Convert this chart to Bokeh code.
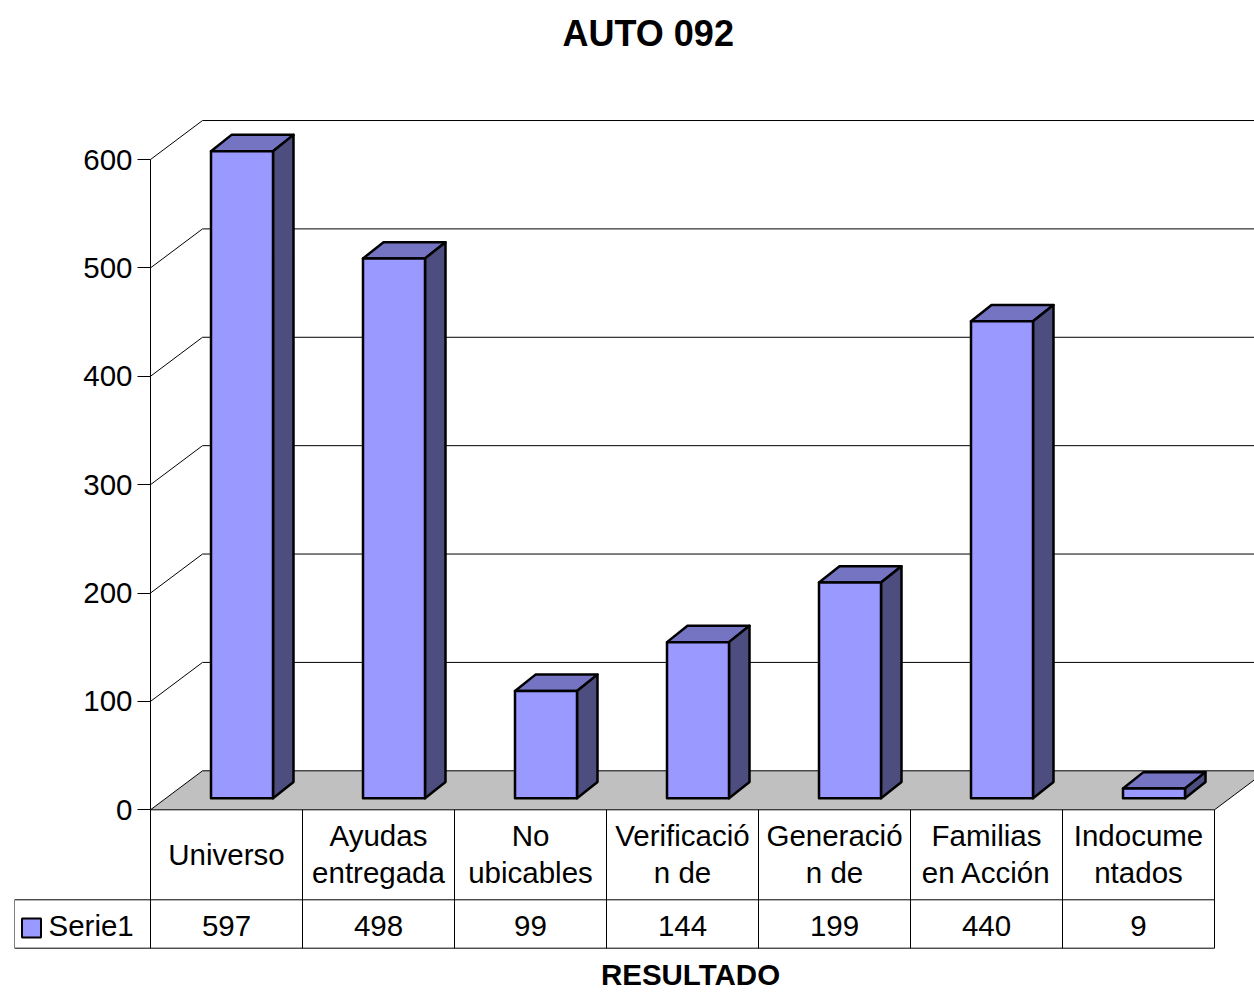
from bokeh.plotting import figure
from bokeh.models import Range1d, FixedTicker
from bokeh.embed import file_html
from bokeh.resources import INLINE
from bokeh.core.properties import value

# ---------------- data ----------------
title_text = "AUTO 092"
x_title = "RESULTADO"
series_name = "Serie1"
categories = ["Universo", "Ayudas\nentregada", "No\nubicables", "Verificació\nn de",
              "Generació\nn de", "Familias\nen Acción", "Indocume\nntados"]
values = [597, 498, 99, 144, 199, 440, 9]
y_ticks = [0, 100, 200, 300, 400, 500, 600]

# ---------------- styling / geometry constants ----------------
FONT = "Liberation Sans"
FS = "29.5px"
FRONT = "#9999FF"
TOPC = "#7474C2"
SIDE = "#4D4D80"
FLOOR = "#C0C0C0"

PX_X = 152.0      # pixels per category
PX_Y = 1.0838     # pixels per value unit
AXIS_PX = 150.0   # pixel x of the value axis
Y0_PX = 809.3     # pixel y of value 0

FR_LEFT, FR_TOP, FR_RIGHT, FR_BOTTOM = 14, 62, 1254, 994

def xd(px):
    return -0.5 + (px - AXIS_PX) / PX_X

def vy(py):
    return (Y0_PX - py) / PX_Y

n = len(categories)
x_axis = xd(AXIS_PX)

DX = 52 / PX_X          # wall depth
DY = 39 / PX_Y
BAR_SHIFT = 15.5 / PX_X
BAR_HALF = 31 / PX_X
BAR_BASE = 11.6 / PX_Y
BDX = 20.5 / PX_X
BDY = 16.3 / PX_Y

ROW1 = vy(899.3)
ROW2 = vy(947.7)
LAB1 = vy(835)
LAB2 = vy(872)
LABM = vy(854)
VALY = vy(925)
LEG_LEFT = xd(14)

p = figure(frame_width=FR_RIGHT - FR_LEFT, frame_height=FR_BOTTOM - FR_TOP,
           x_range=Range1d(xd(FR_LEFT), xd(FR_RIGHT)), y_range=Range1d(vy(FR_BOTTOM), vy(FR_TOP)),
           output_backend="svg", toolbar_location=None,
           min_border_left=FR_LEFT, min_border_top=FR_TOP, min_border_right=0, min_border_bottom=0,
           background_fill_color="white", border_fill_color="white", outline_line_color=None)
p.xgrid.visible = False
p.ygrid.visible = False
p.xaxis.visible = False

# title
p.title.text = title_text
p.title.text_font = FONT
p.title.text_font_size = "36px"
p.title.text_font_style = "bold"
p.title.text_color = "black"
p.title.align = "left"
p.title.offset = 548
p.title.standoff = 17

# y axis: drawn at the front-left edge of the chart
ya = p.yaxis[0]
ya.fixed_location = x_axis
ya.ticker = FixedTicker(ticks=y_ticks)
ya.bounds = (min(y_ticks), max(y_ticks))
ya.major_tick_out = 13
ya.major_tick_in = 0
ya.minor_tick_line_color = None
ya.major_label_overrides = {t: "" for t in y_ticks}
ya.major_label_standoff = 0
ya.axis_line_color = "black"
ya.major_tick_line_color = "black"
p.text(x=[xd(132)] * len(y_ticks), y=y_ticks, text=[str(t) for t in y_ticks],
       text_font=value(FONT), text_font_size=FS, text_align="right",
       text_baseline="middle", text_color="black")

# category-axis title
p.text(x=[xd(690)], y=[vy(974)], text=[x_title], text_font=value(FONT),
       text_font_size="29.5px", text_font_style="bold",
       text_align="center", text_baseline="middle", text_color="black")

# back wall gridlines
grid_levels = [t for t in y_ticks if t > 0]
m = len(grid_levels)
p.segment(x0=[x_axis + DX] * m, y0=[t + DY for t in grid_levels],
          x1=[n - 0.5 + DX] * m, y1=[t + DY for t in grid_levels],
          line_color="black", line_width=1)
# side wall diagonals
p.segment(x0=[x_axis] * m, y0=grid_levels,
          x1=[x_axis + DX] * m, y1=[t + DY for t in grid_levels],
          line_color="black", line_width=1)
# floor
p.patch(x=[x_axis, n - 0.5, n - 0.5 + DX, x_axis + DX], y=[0, 0, DY, DY],
        fill_color=FLOOR, line_color="black", line_width=1)

# bars
ls = [i + BAR_SHIFT - BAR_HALF for i in range(n)]
rs = [i + BAR_SHIFT + BAR_HALF for i in range(n)]
bs = [BAR_BASE] * n
ts = [BAR_BASE + v for v in values]
p.patches(xs=[[l, r, r + BDX, l + BDX] for l, r in zip(ls, rs)],
          ys=[[t, t, t + BDY, t + BDY] for t in ts],
          fill_color=TOPC, line_color="black", line_width=2.5, line_join="round")
p.patches(xs=[[r, r + BDX, r + BDX, r] for r in rs],
          ys=[[b, b + BDY, t + BDY, t] for b, t in zip(bs, ts)],
          fill_color=SIDE, line_color="black", line_width=2.5, line_join="round")
p.quad(left=ls, right=rs, bottom=bs, top=ts,
       fill_color=FRONT, line_color="black", line_width=2.5, line_join="round")

# data table
p.segment(x0=[LEG_LEFT, LEG_LEFT], y0=[ROW1, ROW2], x1=[n - 0.5, n - 0.5], y1=[ROW1, ROW2],
          line_color="black", line_width=1)
p.segment(x0=[x_axis + k for k in range(n + 1)], y0=[0] * (n + 1),
          x1=[x_axis + k for k in range(n + 1)], y1=[ROW2] * (n + 1),
          line_color="black", line_width=1)
p.segment(x0=[LEG_LEFT], y0=[ROW1], x1=[LEG_LEFT], y1=[ROW2], line_color="black", line_width=1)

lx, ly, lt = [], [], []
for i, c in enumerate(categories):
    parts = c.split("\n")
    if len(parts) == 1:
        lx.append(i); ly.append(LABM); lt.append(parts[0])
    else:
        lx += [i, i]; ly += [LAB1, LAB2]; lt += parts
p.text(x=lx, y=ly, text=lt, text_font=value(FONT), text_font_size=FS,
       text_align="center", text_baseline="middle", text_color="black")
p.text(x=list(range(n)), y=[VALY] * n, text=[str(v) for v in values],
       text_font=value(FONT), text_font_size=FS,
       text_align="center", text_baseline="middle", text_color="black")

# legend key in the table
p.quad(left=[xd(21.5)], right=[xd(40.5)], bottom=[vy(937)], top=[vy(918)],
       fill_color=FRONT, line_color="black", line_width=2)
p.text(x=[xd(48)], y=[VALY], text=[series_name], text_font=value(FONT), text_font_size=FS,
       text_align="left", text_baseline="middle", text_color="black")

open("out.html", "w").write(file_html(p, INLINE))
